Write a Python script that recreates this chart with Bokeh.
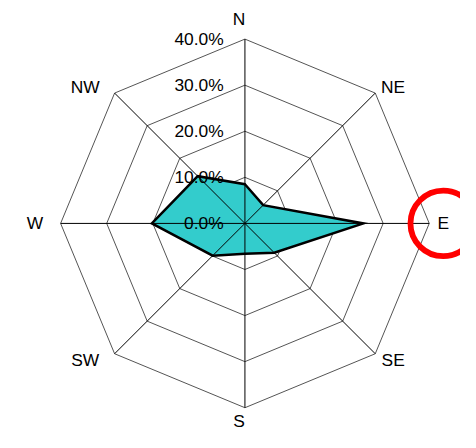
import numpy as np
from bokeh.plotting import figure
from bokeh.models import Range1d
from bokeh.core.properties import value
from bokeh.embed import file_html
from bokeh.resources import INLINE

# ---- data ----
directions = ["N", "NE", "E", "SE", "S", "SW", "W", "NW"]
frequency = [8.5, 5.6, 25.7, 9.0, 6.6, 9.9, 20.2, 14.5]   # percent
ring_levels = [0, 10, 20, 30, 40]
ring_labels = ["0.0%", "10.0%", "20.0%", "30.0%", "40.0%"]
highlight = "E"

# ---- layout ----
W, H = 460, 432
S = 0.965                 # scale from 476x448 design to 460x432 figure
PX = 4.775 * S            # pixels per percent
cx, cy = 253.3 * S, 231.0 * S  # centre in figure pixels (from top-left)

p = figure(width=W, height=H, output_backend="svg", toolbar_location=None,
           x_range=Range1d(-cx / PX, (W - cx) / PX),
           y_range=Range1d(-(H - cy) / PX, cy / PX),
           x_axis_type=None, y_axis_type=None, min_border=0, tools="")
p.grid.visible = False
p.outline_line_color = None
p.background_fill_color = "white"
p.border_fill_color = "white"

n = len(directions)
theta = np.deg2rad(90 - 360.0 / n * np.arange(n))
cs, sn = np.cos(theta), np.sin(theta)
rmax = max(ring_levels)

# rings
ring_xs = [list(np.append(r * cs, r * cs[0])) for r in ring_levels[1:]]
ring_ys = [list(np.append(r * sn, r * sn[0])) for r in ring_levels[1:]]
p.multi_line(xs=ring_xs, ys=ring_ys, line_color="#555555", line_width=1)

# data polygon
f = np.array(frequency)
p.patch(list(f * cs), list(f * sn), fill_color="#33CCCC", fill_alpha=1.0,
        line_color="black", line_width=2.5, line_join="miter")

# spokes
p.segment(x0=[0] * n, y0=[0] * n, x1=list(rmax * cs), y1=list(rmax * sn),
          line_color="black", line_width=1)

FONT = value("Liberation Sans")
FSIZE = "17.4px"

# radial tick labels
p.text(x=[0] * len(ring_levels), y=ring_levels, text=ring_labels,
       x_offset=-22 * S, text_align="right", text_baseline="middle",
       text_font=FONT, text_font_size=FSIZE, text_color="black")

# direction labels
lab_r = 44.3
lx, ly, xo, yo = [], [], [], []
for i in range(n):
    diag = (i % 2 == 1)
    lx.append(lab_r * cs[i])
    ly.append(lab_r * sn[i])
    xo.append(S * (-6 + (10 * np.sign(cs[i]) if diag else 0)))
    dy = 8 * np.sign(sn[i]) if diag else 0
    if not diag and sn[i] < -0.5:
        dy = -7   # keep the bottom label inside the figure
    yo.append(S * dy)
p.text(x=lx, y=ly, text=directions, x_offset=xo, y_offset=yo,
       text_align="center", text_baseline="middle",
       text_font=FONT, text_font_size=FSIZE, text_color="black")

# highlight circle around chosen direction label
k = directions.index(highlight)
hx = lx[k] + xo[k] / PX
hy = ly[k] - yo[k] / PX
p.scatter(x=[hx], y=[hy], size=68 * S, fill_color=None, line_color="#FF0000",
          line_width=6 * S)

open("out.html", "w").write(file_html(p, INLINE))
